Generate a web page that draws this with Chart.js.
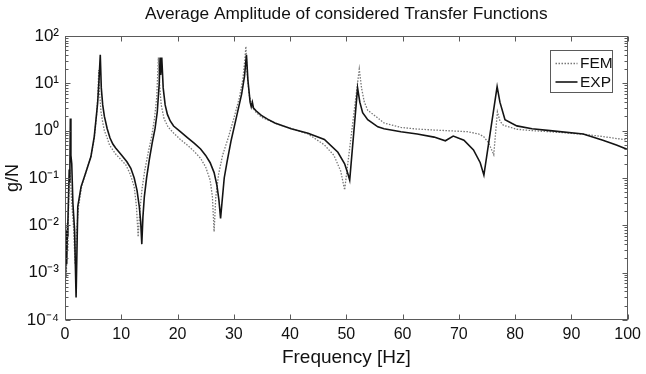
<!DOCTYPE html>
<html>
<head>
<meta charset="utf-8">
<script src="https://cdn.jsdelivr.net/npm/chart.js@4.4.1/dist/chart.umd.min.js"></script>
<style>
  html, body { margin: 0; padding: 0; background: #ffffff; }
  canvas { display: block; }
</style>
</head>
<body>
<canvas id="c" width="646" height="374"></canvas>
<script>
// ---- Data ----
const chartTitle = 'Average Amplitude of considered Transfer Functions';
const xAxisTitle = 'Frequency [Hz]';
const yAxisTitle = 'g/N';
const seriesNames = ['FEM', 'EXP'];

const xTickValues = [0, 10, 20, 30, 40, 50, 60, 70, 80, 90, 100];
const yTickExponents = [-4, -3, -2, -1, 0, 1, 2];

const femFreq = [0, 0.08, 0.15, 0.25, 0.35, 0.5, 0.65, 0.85, 1.0, 1.2, 1.5, 1.8, 2.0, 2.4, 3.0, 3.7, 4.6, 5.2, 5.6, 5.85, 6.0, 6.15, 6.4, 6.7, 7.0, 7.5, 7.9, 9.0, 10.0, 10.8, 11.6, 12.3, 12.7, 13.0, 13.3, 13.7, 14.2, 14.8, 15.4, 15.9, 16.3, 16.6, 16.8, 17.1, 17.6, 18.3, 19.3, 20.5, 21.7, 23.0, 24.1, 25.0, 25.8, 26.2, 26.5, 26.8, 27.3, 28.0, 29.0, 30.0, 31.0, 31.6, 31.95, 32.15, 32.35, 32.7, 33.2, 34.0, 35.0, 37.3, 40.2, 43.2, 46.1, 47.8, 49.0, 49.7, 52.3, 52.7, 53.2, 53.8, 55.6, 56.7, 59.7, 62.6, 65.6, 68.5, 71.5, 73.5, 74.4, 75.3, 75.8, 76.2, 76.85, 77.3, 77.9, 80.3, 83.0, 86.2, 92.1, 95.6, 100];
const femAmp  = [0.01, 0.0006, 0.005, 0.0008, 0.011, 0.003, 0.03, 0.15, 0.08, 0.03, 0.01, 0.0015, 0.006, 0.025, 0.07, 0.13, 0.28, 0.7, 2, 6, 19, 6, 2.5, 1.5, 1.0, 0.7, 0.5, 0.32, 0.24, 0.19, 0.12, 0.065, 0.025, 0.0057, 0.02, 0.06, 0.15, 0.35, 0.75, 1.8, 5, 35, 10, 3.5, 1.8, 1.2, 0.89, 0.65, 0.5, 0.36, 0.26, 0.17, 0.09, 0.04, 0.0073, 0.04, 0.12, 0.3, 0.7, 1.8, 5, 12, 30, 60, 18, 6, 3.3, 2.4, 1.9, 1.45, 1.1, 0.85, 0.5, 0.3, 0.14, 0.056, 20, 8, 4, 2.7, 1.85, 1.45, 1.17, 1.08, 1.03, 0.99, 0.95, 0.85, 0.75, 0.55, 0.4, 0.31, 2.5, 1.6, 1.3, 1.07, 1.0, 0.95, 0.84, 0.75, 0.63];

const expFreq = [0, 0.1, 0.2, 0.3, 0.4, 0.5, 0.6, 0.75, 0.85, 0.95, 1.05, 1.2, 1.4, 1.7, 1.97, 2.27, 2.85, 3.7, 4.6, 5.2, 5.8, 6.05, 6.27, 6.45, 6.7, 7.0, 7.5, 8.0, 8.5, 9.0, 10.0, 11.0, 11.7, 12.3, 12.8, 13.2, 13.45, 13.65, 13.85, 14.1, 14.5, 15.0, 15.5, 16.0, 16.4, 16.75, 16.9, 17.0, 17.2, 17.45, 17.8, 18.2, 18.7, 19.3, 20.5, 21.7, 23.0, 24.1, 25.0, 25.8, 26.5, 27.0, 27.35, 27.65, 27.9, 28.3, 28.8, 29.5, 30.5, 31.4, 31.9, 32.25, 32.5, 32.9, 33.1, 33.3, 33.5, 34.0, 34.9, 36.0, 37.3, 40.2, 43.2, 46.1, 48.5, 49.7, 50.3, 50.6, 52.0, 52.4, 52.9, 53.8, 55.6, 56.7, 59.7, 62.6, 65.6, 67.6, 69.0, 70.9, 72.6, 73.8, 74.45, 76.8, 77.3, 78.2, 80.3, 83.0, 86.2, 92.1, 95.6, 98.0, 100];
const expAmp  = [0.004, 0.001, 0.008, 0.0015, 0.006, 0.01, 0.03, 0.15, 0.08, 1.8, 0.3, 0.2, 0.03, 0.008, 0.0003, 0.025, 0.065, 0.13, 0.28, 0.75, 3.8, 12, 40, 8, 3.5, 2.0, 1.1, 0.7, 0.52, 0.43, 0.31, 0.22, 0.16, 0.1, 0.055, 0.025, 0.012, 0.004, 0.015, 0.04, 0.1, 0.25, 0.55, 1.1, 2.5, 10, 35, 15, 35, 8, 3.5, 2.2, 1.6, 1.25, 0.95, 0.72, 0.54, 0.41, 0.3, 0.21, 0.13, 0.07, 0.035, 0.014, 0.03, 0.1, 0.22, 0.6, 2.0, 6, 14, 40, 12, 4, 3.2, 4, 3, 2.6, 2.1, 1.75, 1.45, 1.1, 0.88, 0.65, 0.35, 0.2, 0.12, 0.09, 8, 4, 2.4, 1.7, 1.2, 1.1, 0.95, 0.85, 0.73, 0.61, 0.77, 0.63, 0.39, 0.21, 0.115, 8.5, 4, 1.7, 1.26, 1.1, 1.0, 0.85, 0.63, 0.5, 0.4];

// ---- Helpers ----
const SUP = {'-': '\u207B', '0': '\u2070', '1': '\u00B9', '2': '\u00B2', '3': '\u00B3', '4': '\u2074'};
function powLabel(k) { return '10' + String(k).split('').map(c => SUP[c]).join(''); }
function toPoints(xs, ys) { return xs.map((x, i) => ({x: x, y: ys[i]})); }

const FONT = "'Liberation Sans', Arial, Helvetica, sans-serif";
const TEXT = '#111111';
const FRAME = '#5a5a5a';

// frame + inward ticks (positions taken from the chart's own scales)
const framePlugin = {
  id: 'frame',
  afterDatasetsDraw(chart) {
    const {ctx, chartArea: a, scales} = chart;
    const L = Math.round(a.left) + 0.5, R = Math.round(a.right) - 0.5;
    const T = Math.round(a.top) + 0.5, B = Math.round(a.bottom) - 0.5;
    ctx.save();
    ctx.strokeStyle = FRAME;
    ctx.lineWidth = 1;
    ctx.strokeRect(L, T, R - L, B - T);
    ctx.beginPath();
    xTickValues.forEach(v => {
      const px = Math.round(scales.x.getPixelForValue(v)) + 0.5;
      ctx.moveTo(px, B); ctx.lineTo(px, B - 5);
      ctx.moveTo(px, T); ctx.lineTo(px, T + 5);
    });
    yTickExponents.forEach(k => {
      const py = Math.round(scales.y.getPixelForValue(Math.pow(10, k))) + 0.5;
      ctx.moveTo(L, py); ctx.lineTo(L + 5, py);
      ctx.moveTo(R, py); ctx.lineTo(R - 5, py);
      if (k < yTickExponents[yTickExponents.length - 1]) {
        for (let m = 2; m <= 9; m++) {
          const q = Math.round(scales.y.getPixelForValue(m * Math.pow(10, k))) + 0.5;
          ctx.moveTo(L, q); ctx.lineTo(L + 3, q);
          ctx.moveTo(R, q); ctx.lineTo(R - 3, q);
        }
      }
    });
    ctx.stroke();
    ctx.restore();
  }
};

// boxed legend inside the plot, upper right
const legendPlugin = {
  id: 'boxLegend',
  afterDraw(chart) {
    const {ctx, chartArea: a} = chart;
    const bw = 62, bh = 42;
    const bx = Math.round(a.right - 16 - bw) + 0.5, by = Math.round(a.top + 14) + 0.5;
    ctx.save();
    ctx.fillStyle = '#ffffff';
    ctx.fillRect(bx, by, bw, bh);
    ctx.strokeStyle = FRAME;
    ctx.lineWidth = 1;
    ctx.strokeRect(bx, by, bw, bh);
    chart.data.datasets.forEach((ds, i) => {
      const y = by + 13 + i * 18.5;
      ctx.beginPath();
      ctx.strokeStyle = ds.borderColor;
      ctx.lineWidth = ds.borderWidth;
      ctx.setLineDash(ds.borderDash || []);
      ctx.moveTo(bx + 5, y); ctx.lineTo(bx + 27, y);
      ctx.stroke();
      ctx.setLineDash([]);
      ctx.fillStyle = TEXT;
      ctx.font = '15.5px ' + FONT;
      ctx.textBaseline = 'middle';
      ctx.textAlign = 'left';
      ctx.fillText(ds.label, bx + 29.5, y + 0.5);
    });
    ctx.restore();
  }
};

const whiteBg = {
  id: 'whiteBg',
  beforeDraw(chart) {
    const {ctx, width, height} = chart;
    ctx.save(); ctx.fillStyle = '#ffffff'; ctx.fillRect(0, 0, width, height); ctx.restore();
  }
};

new Chart(document.getElementById('c').getContext('2d'), {
  type: 'line',
  data: {
    datasets: [
      { label: seriesNames[0], data: toPoints(femFreq, femAmp), borderColor: '#777777', borderWidth: 1.3,
        borderDash: [1.5, 1.5], pointRadius: 0, tension: 0, order: 1 },
      { label: seriesNames[1], data: toPoints(expFreq, expAmp), borderColor: '#141414', borderWidth: 1.6,
        pointRadius: 0, tension: 0, order: 0 }
    ]
  },
  options: {
    responsive: false,
    animation: false,
    devicePixelRatio: 1,
    parsing: false,
    layout: { padding: { left: 0, right: 14, top: 0, bottom: 0 } },
    plugins: {
      legend: { display: false },
      tooltip: { enabled: false },
      title: {
        display: true, text: chartTitle, fullSize: false, color: TEXT,
        font: { family: FONT, size: 17.3, weight: 'normal' },
        padding: { top: 4, bottom: 11.2 }
      }
    },
    scales: {
      x: {
        type: 'linear', min: 0, max: 100,
        afterBuildTicks: s => { s.ticks = xTickValues.map(v => ({value: v})); },
        afterFit: s => { s.height = 54; },
        grid: { display: false, drawTicks: false },
        border: { display: false },
        ticks: { color: TEXT, font: { family: FONT, size: 16 }, padding: 5, maxRotation: 0, autoSkip: false },
        title: { display: true, text: xAxisTitle, color: TEXT, font: { family: FONT, size: 19 }, padding: { top: 0, bottom: 4.6 } }
      },
      y: {
        type: 'logarithmic', min: 1e-4, max: 100,
        afterBuildTicks: s => { s.ticks = yTickExponents.map(k => ({value: Math.pow(10, k)})); },
        afterFit: s => { s.width = 65; },
        grid: { display: false, drawTicks: false },
        border: { display: false },
        ticks: {
          color: TEXT, font: { family: FONT, size: 17 }, padding: 6, autoSkip: false,
          callback: v => powLabel(Math.round(Math.log10(v)))
        },
        title: { display: true, text: yAxisTitle, color: TEXT, font: { family: FONT, size: 18 }, padding: { top: 2.6, bottom: 0 } }
      }
    }
  },
  plugins: [whiteBg, framePlugin, legendPlugin]
});
</script>
</body>
</html>
